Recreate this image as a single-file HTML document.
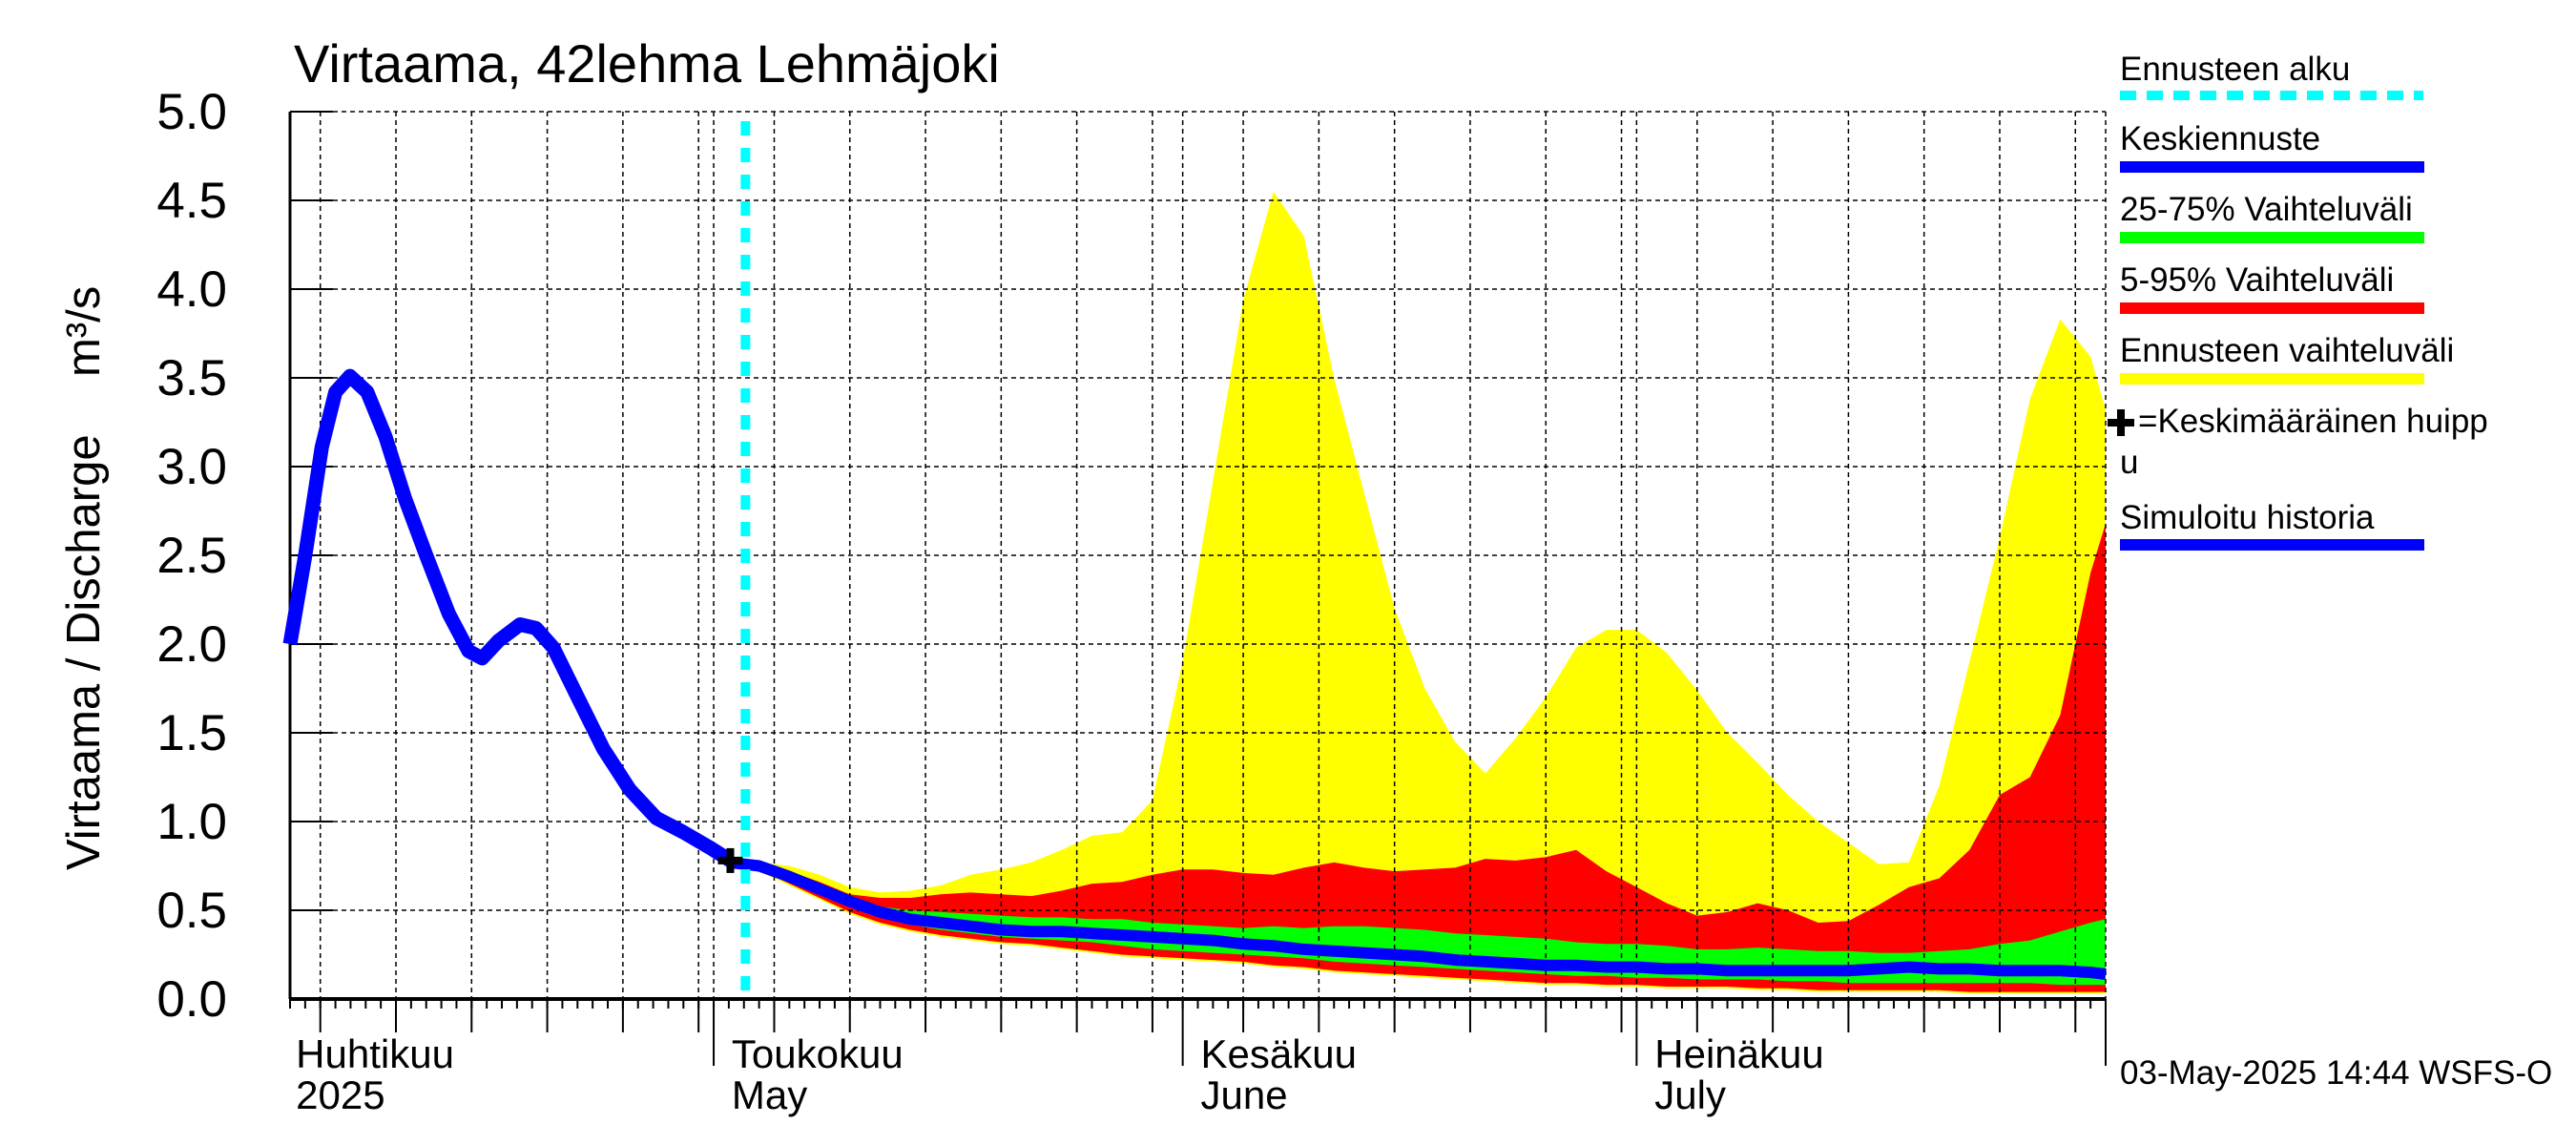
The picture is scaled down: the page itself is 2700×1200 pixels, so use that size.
<!DOCTYPE html>
<html><head><meta charset="utf-8"><style>
html,body{margin:0;padding:0;background:#fff;}
svg{display:block;font-family:"Liberation Sans",sans-serif;}
</style></head><body>
<svg id="chart" width="2700" height="1200" viewBox="0 0 2700 1200" xmlns="http://www.w3.org/2000/svg">
<text x="308" y="86" font-size="56">Virtaama, 42lehma Lehmäjoki</text>
<g id="plot"></g>
<text transform="translate(104,912) rotate(-90)" font-size="49">Virtaama / Discharge</text>
<text transform="translate(104,395) rotate(-90)" font-size="49">m³/s</text>
<g font-size="35">
<text x="2222" y="84">Ennusteen alku</text>
<line x1="2222" y1="100" x2="2540" y2="100" stroke="#00ffff" stroke-width="10" stroke-dasharray="17,11"/>
<text x="2222" y="157">Keskiennuste</text>
<rect x="2222" y="169" width="319" height="12" fill="#0000ff"/>
<text x="2222" y="231">25-75% Vaihteluväli</text>
<rect x="2222" y="243" width="319" height="12" fill="#00ff00"/>
<text x="2222" y="305">5-95% Vaihteluväli</text>
<rect x="2222" y="317" width="319" height="12" fill="#ff0000"/>
<text x="2222" y="379">Ennusteen vaihteluväli</text>
<rect x="2222" y="391" width="319" height="12" fill="#ffff00"/>
<rect x="2209" y="439" width="28" height="8" fill="#000"/>
<rect x="2219" y="429" width="8" height="28" fill="#000"/>
<text x="2241" y="453">=Keskimääräinen huipp</text>
<text x="2222" y="496">u</text>
<text x="2222" y="554">Simuloitu historia</text>
<rect x="2222" y="565" width="319" height="12" fill="#0000ff"/>
</g>
<text x="2222" y="1136" font-size="35">03-May-2025 14:44 WSFS-O</text>
</svg>
<script>
// Day index: 0 = 1 April 2025
const histDays = [2,3,4.1,5,5.96,7.1,8.3,9.6,11,12.5,13.8,14.7,15.8,17.2,18.25,19.4,20.9,22.7,24.45,26.2,28,29.8,31.1];
const histValues = [2.0,2.5,3.11,3.42,3.51,3.42,3.17,2.82,2.5,2.17,1.96,1.92,2.02,2.11,2.09,1.98,1.72,1.41,1.18,1.02,0.94,0.85,0.78];
const fcDays = [31,33,35,37,39,41,43,45,47,49,51,53,55,57,59,61,63,65,67,69,71,73,75,77,79,81,83,85,87,89,91,93,95,97,99,101,103,105,107,109,111,113,115,117,119,121,122];
const yellowHi = [.77,.77,.75,.70,.63,.60,.61,.64,.70,.73,.77,.84,.92,.94,1.12,1.90,2.92,3.94,4.55,4.30,3.50,2.85,2.20,1.75,1.45,1.27,1.47,1.70,1.98,2.08,2.08,1.95,1.74,1.50,1.33,1.15,1.00,.88,.76,.77,1.20,1.90,2.60,3.38,3.83,3.62,3.32];
const redHi = [.77,.76,.72,.66,.59,.57,.57,.59,.60,.59,.58,.61,.65,.66,.70,.73,.73,.71,.70,.74,.77,.74,.72,.73,.74,.79,.78,.80,.84,.72,.63,.54,.47,.49,.54,.50,.43,.44,.53,.63,.68,.84,1.15,1.25,1.60,2.40,2.68];
const greenHi = [.77,.75,.70,.64,.57,.52,.50,.49,.48,.47,.46,.46,.45,.45,.43,.42,.41,.40,.41,.40,.41,.41,.40,.39,.37,.36,.35,.34,.32,.31,.31,.30,.28,.28,.29,.28,.27,.27,.26,.26,.27,.28,.31,.33,.38,.43,.45];
const median = [.77,.75,.69,.62,.55,.49,.45,.43,.41,.39,.38,.38,.37,.36,.35,.34,.33,.31,.30,.28,.27,.26,.25,.24,.22,.21,.20,.19,.19,.18,.18,.17,.17,.16,.16,.16,.16,.16,.17,.18,.17,.17,.16,.16,.16,.15,.14];
const greenLo = [.77,.74,.67,.60,.52,.46,.42,.39,.37,.35,.34,.33,.32,.30,.28,.27,.26,.25,.24,.23,.21,.20,.19,.18,.17,.16,.15,.14,.13,.13,.12,.12,.11,.11,.11,.10,.10,.09,.09,.09,.09,.09,.09,.09,.08,.08,.08];
const redLo = [.77,.73,.65,.57,.49,.43,.39,.36,.34,.32,.31,.29,.27,.25,.24,.23,.22,.21,.19,.18,.16,.15,.14,.13,.12,.11,.10,.09,.09,.08,.08,.07,.07,.07,.06,.06,.05,.05,.05,.05,.05,.04,.04,.04,.04,.04,.04];
const yellowLo = [.77,.72,.64,.56,.48,.42,.38,.35,.33,.31,.30,.28,.26,.24,.23,.22,.21,.20,.18,.17,.15,.14,.13,.12,.11,.10,.09,.08,.08,.07,.07,.06,.06,.06,.05,.05,.04,.04,.04,.04,.04,.03,.03,.03,.03,.03,.03];
const yTicks = ["0.0","0.5","1.0","1.5","2.0","2.5","3.0","3.5","4.0","4.5","5.0"];
const monthLabels = [["Huhtikuu","2025"],["Toukokuu","May"],["Kesäkuu","June"],["Heinäkuu","July"]];
const monthLabelDays = [2.2,31,62,92];
const monthStartDays = [30,61,91,122];
const monthStarts = [0,30,61,91];
const forecastStartDay = 32.1;
const peakDay = 31.1, peakValue = 0.78;

const X0 = 2, X1 = 122, PX0 = 304, PX1 = 2207;
const PY0 = 1047, PPU = 186;
function xs(d){ return PX0 + (d - X0) * (PX1 - PX0) / (X1 - X0); }
function ys(v){ return PY0 - v * PPU; }
const NS = "http://www.w3.org/2000/svg";
const plot = document.getElementById('plot');
function mk(tag, attrs){ const e = document.createElementNS(NS, tag); for (const k in attrs) e.setAttribute(k, attrs[k]); plot.appendChild(e); return e; }
function band(hi, lo, color, name){
  let pts = [];
  for (let i=0;i<fcDays.length;i++) pts.push(xs(fcDays[i]).toFixed(1)+','+ys(hi[i]).toFixed(1));
  for (let i=fcDays.length-1;i>=0;i--) pts.push(xs(fcDays[i]).toFixed(1)+','+ys(lo[i]).toFixed(1));
  const p = mk('polygon', {points: pts.join(' '), fill: color});
  
  
}
band(yellowHi, yellowLo, '#ffff00', 'forecast-range-band');
band(redHi, redLo, '#ff0000', 'band-5-95');
band(greenHi, greenLo, '#00ff00', 'band-25-75');

for (let i=1;i<yTicks.length;i++){
  const y = ys(i*0.5);
  const g = mk('line', {x1: PX0, x2: PX1, y1: y, y2: y, stroke: '#000', 'stroke-width': 1.5, 'stroke-dasharray': '5,4'});
  
  
  const t = mk('line', {x1: PX0, x2: PX0+45, y1: y, y2: y, stroke: '#000', 'stroke-width': 2});
  
  
}
for (let i=0;i<yTicks.length;i++){
  const t = mk('text', {x: 238, y: ys(i*0.5)+18, 'font-size': 53, 'text-anchor': 'end'});
  t.textContent = yTicks[i];
  
  
}
for (let m=0;m<4;m++){
  for (let dd=5; dd<=30; dd+=5){
    const d = monthStarts[m] + dd - 1;
    if (d < X0 || d > X1) continue;
    const x = xs(d);
    const g = mk('line', {x1: x, x2: x, y1: ys(5), y2: PY0, stroke: '#000', 'stroke-width': 1.5, 'stroke-dasharray': '5,4'});
    
    
    const t = mk('line', {x1: x, x2: x, y1: PY0, y2: 1082, stroke: '#000', 'stroke-width': 2});
    
    
  }
}
for (let d=X0; d<=X1; d++){
  const t = mk('line', {x1: xs(d), x2: xs(d), y1: PY0, y2: 1057, stroke: '#000', 'stroke-width': 2});
  
  
}
for (const d of monthStartDays){
  const x = xs(d);
  const g = mk('line', {x1: x, x2: x, y1: ys(5), y2: PY0, stroke: '#000', 'stroke-width': 1.5, 'stroke-dasharray': '5,4'});
  
  
  const t = mk('line', {x1: x, x2: x, y1: PY0, y2: 1117, stroke: '#000', 'stroke-width': 2});
  
  
}
for (let i=0;i<monthLabels.length;i++){
  const x = xs(monthLabelDays[i]) + 3;
  const a = mk('text', {x: x, y: 1119, 'font-size': 42});
  a.textContent = monthLabels[i][0];
  
  
  const b = mk('text', {x: x, y: 1162, 'font-size': 42});
  b.textContent = monthLabels[i][1];
  
  
}
const ax = mk('line', {x1: PX0, x2: PX0, y1: ys(5), y2: PY0, stroke: '#000', 'stroke-width': 3});


const bx = mk('line', {x1: PX0, x2: PX1, y1: PY0, y2: PY0, stroke: '#000', 'stroke-width': 4});



const mp = mk('polyline', {points: fcDays.map((d,i)=>xs(d).toFixed(1)+','+ys(median[i]).toFixed(1)).join(' '), fill: 'none', stroke: '#0000ff', 'stroke-width': 12, 'stroke-linejoin': 'round'});


const hp = mk('polyline', {points: histDays.map((d,i)=>xs(d).toFixed(1)+','+ys(histValues[i]).toFixed(1)).join(' '), fill: 'none', stroke: '#0000ff', 'stroke-width': 15, 'stroke-linejoin': 'round'});


const fx = xs(forecastStartDay);
const fl = mk('line', {x1: fx, x2: fx, y1: ys(5)+10, y2: PY0, stroke: '#00ffff', 'stroke-width': 10, 'stroke-dasharray': '15,13'});


const px = xs(peakDay), py = ys(peakValue);
const pk1 = mk('rect', {x: px-13, y: py-4, width: 26, height: 8, fill: '#000'});


const pk2 = mk('rect', {x: px-4, y: py-13, width: 8, height: 26, fill: '#000'});


</script>
</body></html>
